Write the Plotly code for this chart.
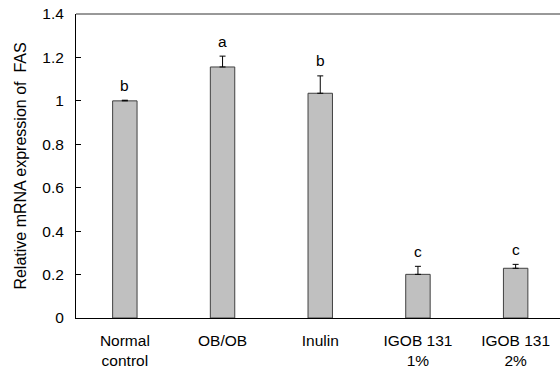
import plotly.graph_objects as go

categories = ["Normal<br>control", "OB/OB", "Inulin", "IGOB 131<br>1%", "IGOB 131<br>2%"]
values = [1.0, 1.156, 1.035, 0.201, 0.229]
errors = [0.003, 0.05, 0.08, 0.037, 0.018]
letters = ["b", "a", "b", "c", "c"]
y_ticks = [0, 0.2, 0.4, 0.6, 0.8, 1, 1.2, 1.4]
y_tick_labels = ["0", "0.2", "0.4", "0.6", "0.8", "1", "1.2", "1.4"]

FONT = "Liberation Sans, Arial, sans-serif"
FS = 15.5

fig = go.Figure()
fig.add_trace(go.Bar(
    x=list(range(len(categories))),
    y=values,
    width=0.25,
    marker=dict(color="#c0c0c0", line=dict(color="#404040", width=1)),
    error_y=dict(type="data", array=errors, symmetric=False, arrayminus=[0]*len(errors),
                 color="black", thickness=1, width=3),
))

for i, (v, e, l) in enumerate(zip(values, errors, letters)):
    fig.add_annotation(x=i, y=v + e, text=l, showarrow=False, yanchor="middle",
                       yshift=15, font=dict(family=FONT, size=FS, color="black"))

# top frame line of the plot area
fig.add_shape(type="line", xref="paper", yref="paper", x0=0, x1=1, y0=1, y1=1,
              line=dict(color="#333333", width=1))

fig.update_layout(
    width=560, height=371,
    margin=dict(l=76, r=0, t=14, b=53, autoexpand=False),
    paper_bgcolor="white", plot_bgcolor="white",
    showlegend=False,
    font=dict(family=FONT, size=FS, color="black"),
)
fig.update_xaxes(
    range=[-0.5, 4.454], automargin=False,
    tickmode="array", tickvals=list(range(len(categories))), ticktext=categories,
    showline=True, linecolor="black", linewidth=1, mirror=False,
    ticks="", showgrid=False, zeroline=False,
    tickfont=dict(family=FONT, size=FS, color="black"),
    ticklabelstandoff=8,
)
fig.update_yaxes(
    range=[0, 1.4], automargin=False,
    tickmode="array", tickvals=y_ticks, ticktext=y_tick_labels,
    showline=True, linecolor="black", linewidth=1,
    ticks="inside", ticklen=5, tickcolor="black",
    showgrid=False, zeroline=False,
    tickfont=dict(family=FONT, size=FS, color="black"),
    ticklabelstandoff=8,
    title=dict(text="Relative mRNA expression of  FAS", font=dict(family=FONT, size=16, color="black"), standoff=11),
)

fig.write_html(
    "out.html",
    config={"displayModeBar": False, "staticPlot": True},
    post_script="document.body.style.margin='0';document.body.style.overflow='hidden';document.documentElement.style.overflow='hidden';",
)
